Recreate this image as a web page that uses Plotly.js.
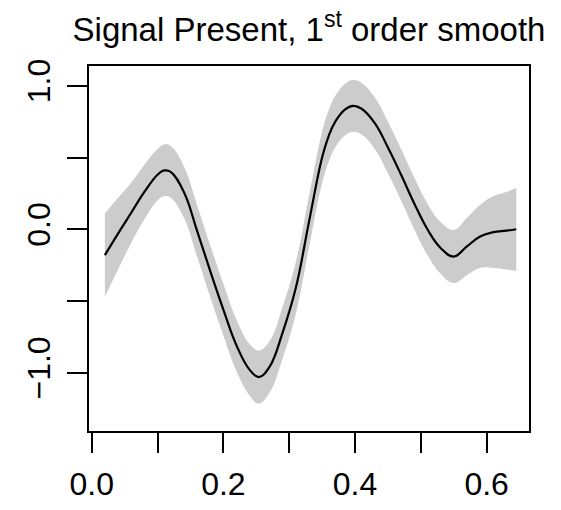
<!DOCTYPE html>
<html>
<head>
<meta charset="utf-8">
<script src="https://cdn.plot.ly/plotly-3.0.1.min.js"></script>
<style>html,body{margin:0;padding:0;background:#fff;}#chart{width:561px;height:510px;}</style>
</head>
<body>
<div id="chart"></div>
<script>
// Data
const xs    = [0.02, 0.04, 0.06, 0.08, 0.10, 0.11, 0.12, 0.14, 0.16, 0.18, 0.20, 0.22, 0.24, 0.254, 0.27, 0.29, 0.31, 0.33, 0.35, 0.36, 0.37, 0.385, 0.397, 0.41, 0.43, 0.45, 0.47, 0.49, 0.51, 0.53, 0.55, 0.57, 0.59, 0.61, 0.63, 0.645];
const fit   = [-0.18, -0.03, 0.115, 0.26, 0.38, 0.41, 0.40, 0.26, -0.01, -0.29, -0.56, -0.81, -0.98, -1.03, -0.96, -0.72, -0.41, 0.05, 0.50, 0.65, 0.75, 0.835, 0.86, 0.84, 0.74, 0.57, 0.38, 0.18, 0.00, -0.13, -0.19, -0.12, -0.05, -0.02, -0.01, 0.00];
const upper = [0.11, 0.22, 0.325, 0.45, 0.56, 0.59, 0.58, 0.44, 0.17, -0.11, -0.38, -0.63, -0.80, -0.845, -0.78, -0.54, -0.23, 0.23, 0.68, 0.83, 0.93, 1.015, 1.04, 1.02, 0.92, 0.75, 0.56, 0.36, 0.18, 0.05, -0.005, 0.08, 0.17, 0.23, 0.26, 0.29];
const lower = [-0.47, -0.28, -0.095, 0.07, 0.20, 0.23, 0.22, 0.08, -0.19, -0.47, -0.74, -0.99, -1.16, -1.215, -1.14, -0.90, -0.59, -0.13, 0.32, 0.47, 0.57, 0.655, 0.68, 0.66, 0.56, 0.39, 0.20, 0.00, -0.18, -0.31, -0.375, -0.32, -0.27, -0.27, -0.28, -0.29];
const xTickVals = [0, 0.2, 0.4, 0.6];
const xTickText = ['0.0', '0.2', '0.4', '0.6'];
const xMinorVals = [0.1, 0.3, 0.5];
const yTickVals = [-1, 0, 1];
const yTickText = ['\u22121.0', '0.0', '1.0'];
const yMinorVals = [-0.5, 0.5];

const font = 'Liberation Sans, Arial, sans-serif';

const traces = [
  {x: xs, y: lower, type: 'scatter', mode: 'lines', line: {width: 0, shape: 'spline', smoothing: 1.2, color: '#CCCCCC'}, hoverinfo: 'skip', showlegend: false},
  {x: xs, y: upper, type: 'scatter', mode: 'lines', fill: 'tonexty', fillcolor: '#CCCCCC', line: {width: 0, shape: 'spline', smoothing: 1.2, color: '#CCCCCC'}, hoverinfo: 'skip', showlegend: false},
  {x: xs, y: fit, type: 'scatter', mode: 'lines', line: {width: 2.2, shape: 'spline', smoothing: 1.2, color: '#000'}, showlegend: false}
];

const minorStyle = {ticks: 'outside', ticklen: 20, tickwidth: 2, tickcolor: '#000', showgrid: false};

const layout = {
  width: 561, height: 510,
  paper_bgcolor: '#fff', plot_bgcolor: '#fff',
  margin: {l: 89, r: 32, t: 66, b: 79, autoexpand: false},
  title: {text: 'Signal Present, 1<sup>st</sup> order smooth', font: {family: font, size: 33, color: '#000'}, xref: 'paper', x: 0.5, xanchor: 'center', yref: 'container', y: 0.943, yanchor: 'middle'},
  xaxis: {range: [-0.0041, 0.6643], tickmode: 'array', tickvals: xTickVals, ticktext: xTickText, ticks: 'outside', ticklen: 20, tickwidth: 2, tickcolor: '#000', showline: true, linewidth: 2, linecolor: '#000', mirror: true, showgrid: false, zeroline: false, tickfont: {family: font, size: 32, color: '#000'}, ticklabelstandoff: 4,
    minor: Object.assign({tickmode: 'array', tickvals: xMinorVals}, minorStyle)},
  yaxis: {range: [-1.406, 1.138], tickmode: 'array', tickvals: yTickVals, ticktext: yTickText, tickangle: -90, ticks: 'outside', ticklen: 20, tickwidth: 2, tickcolor: '#000', showline: true, linewidth: 2, linecolor: '#000', mirror: true, showgrid: false, zeroline: false, tickfont: {family: font, size: 32, color: '#000'}, ticklabelstandoff: 4,
    minor: Object.assign({tickmode: 'array', tickvals: yMinorVals}, minorStyle)}
};

Plotly.newPlot('chart', traces, layout, {staticPlot: true, displayModeBar: false});
</script>
</body>
</html>
